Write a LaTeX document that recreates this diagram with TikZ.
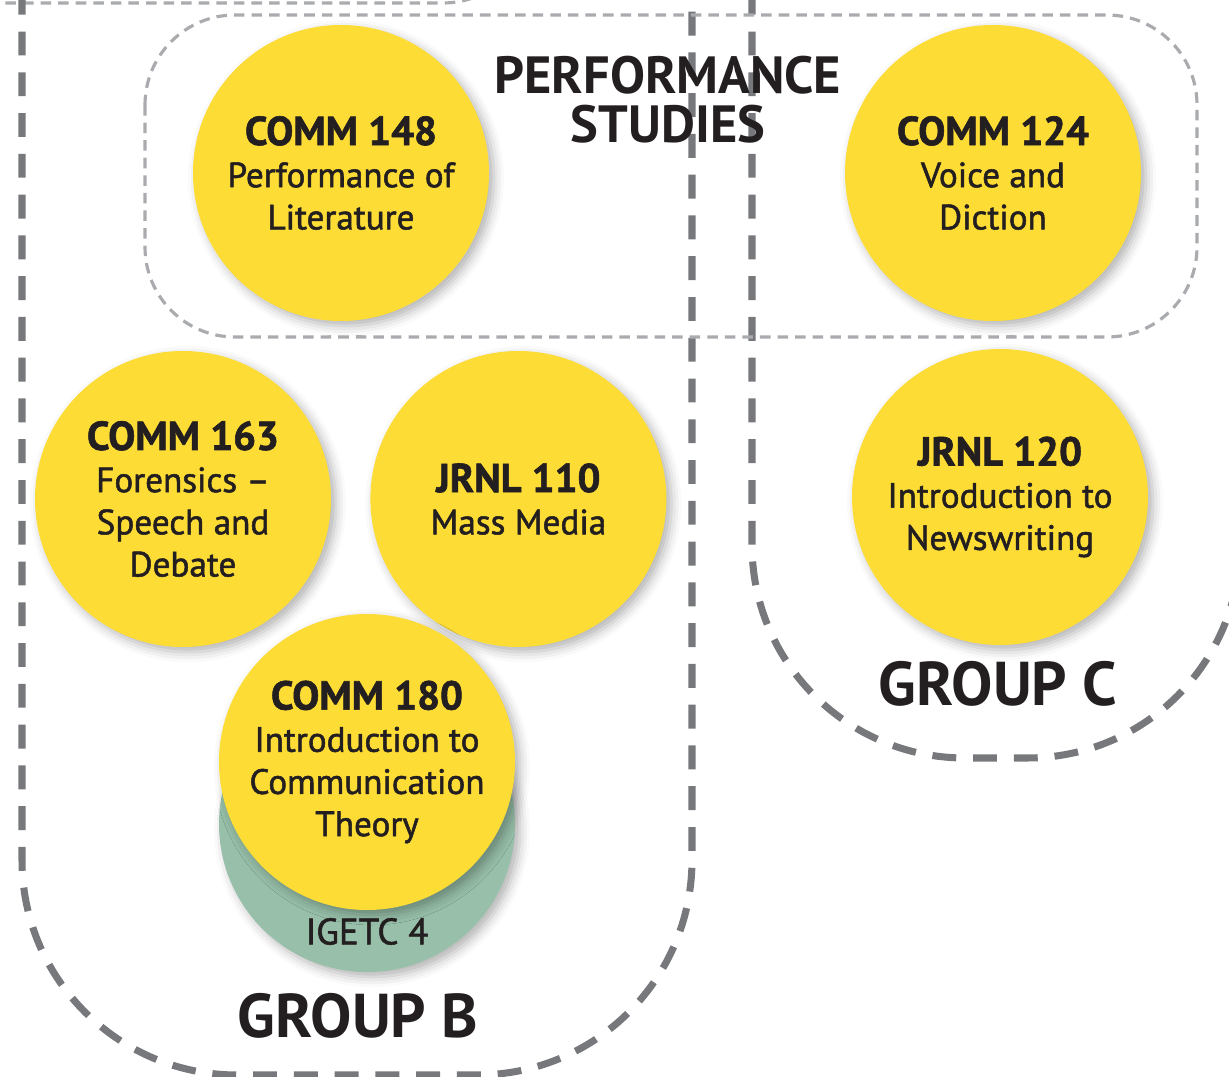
\documentclass[tikz,border=0pt]{standalone}
\usepackage{fontspec}
\setmainfont{PT Sans}
\newfontfamily\subfont[FakeBold=1.5]{PT Sans}
\usepackage{xcolor}
\usepackage{tikz}
\usetikzlibrary{positioning,shadows.blur}
\definecolor{COURSE_YELLOW}{HTML}{FDDC35}
\definecolor{IGETC_GREEN}{HTML}{97BFA9}
\definecolor{GROUP_GRAY}{HTML}{77787B}
\definecolor{PERF_GRAY}{HTML}{A9ABAE}
\definecolor{INK}{HTML}{231F20}
\newcommand{\ctitle}[1]{{\fontsize{11.5}{12}\selectfont\bfseries #1}}
\tikzstyle{course}      = [circle, fill=COURSE_YELLOW, minimum size=2.96cm, inner sep=0pt, align=center, text=INK,
                           font=\subfont\fontsize{10}{12}\selectfont,
                           blur shadow={shadow xshift=0.05cm, shadow yshift=-0.05cm, shadow blur radius=0.1cm, shadow opacity=30}]
\tikzstyle{igetc}       = [course, fill=IGETC_GREEN]
\tikzstyle{group_line}  = [draw=GROUP_GRAY, line width=2pt, dash pattern=on 6.8pt off 4.8pt]
\tikzstyle{perf_line}   = [draw=PERF_GRAY, line width=0.9pt, dash pattern=on 3pt off 2pt]
\tikzstyle{group_label} = [font=\fontsize{17.6}{19}\selectfont\bfseries, text=INK]
\begin{document}
\begin{tikzpicture}
  \useasboundingbox (0,0) rectangle (12.29,-10.77);
  \clip (0,0) rectangle (12.29,-10.77);

  % group outlines
  \draw[perf_line, rounded corners=0.9cm] (-1,-0.03) -- (5.33,-0.03) -- (5.33,1);
  \draw[group_line, rounded corners=2.15cm] (0.22,0.5) -- (0.22,-10.75) -- (6.92,-10.75) -- (6.92,0.5);
  \draw[group_line, rounded corners=2.13cm] (7.52,0.5) -- (7.52,-7.58) -- (12.40,-7.58) -- (12.40,0.5);
  \draw[perf_line, rounded corners=0.9cm] (1.45,-0.15) rectangle (11.97,-3.37);
  \node[font=\fontsize{14.9}{14}\selectfont\bfseries, align=center, text=INK] (PERF) at (6.68,-1.0) {PERFORMANCE\\STUDIES};

  % courses
  \node[course] (COMM_148) at (3.41,-1.73) {\ctitle{COMM 148}\\Performance of\\Literature};
  \node[course] (COMM_124) at (9.93,-1.73) {\ctitle{COMM 124}\\Voice and\\Diction};
  \node[course] (COMM_163) at (1.83,-4.99) {\ctitle{COMM 163}\\Forensics –\\Speech and\\Debate};
  \node[course, right=0.38cm of COMM_163] (JRNL_110) {\ctitle{JRNL 110}\\Mass Media};
  \node[course] (JRNL_120) at (10.00,-4.97) {\ctitle{JRNL 120}\\Introduction to\\Newswriting};
  \node[igetc, label={[label distance=-0.67cm, text=INK, font=\subfont\fontsize{10.5}{12}\selectfont]270:IGETC 4}] (IGETC_4) at (3.67,-8.24) {};
  \node[course] (COMM_180) at (3.67,-7.62) {\ctitle{COMM 180}\\Introduction to\\Communication\\Theory};

  \node[group_label] (GROUP_B) at (3.58,-10.16) {GROUP B};
  \node[group_label] (GROUP_C) at (9.98,-6.84) {GROUP C};
\end{tikzpicture}
\end{document}
